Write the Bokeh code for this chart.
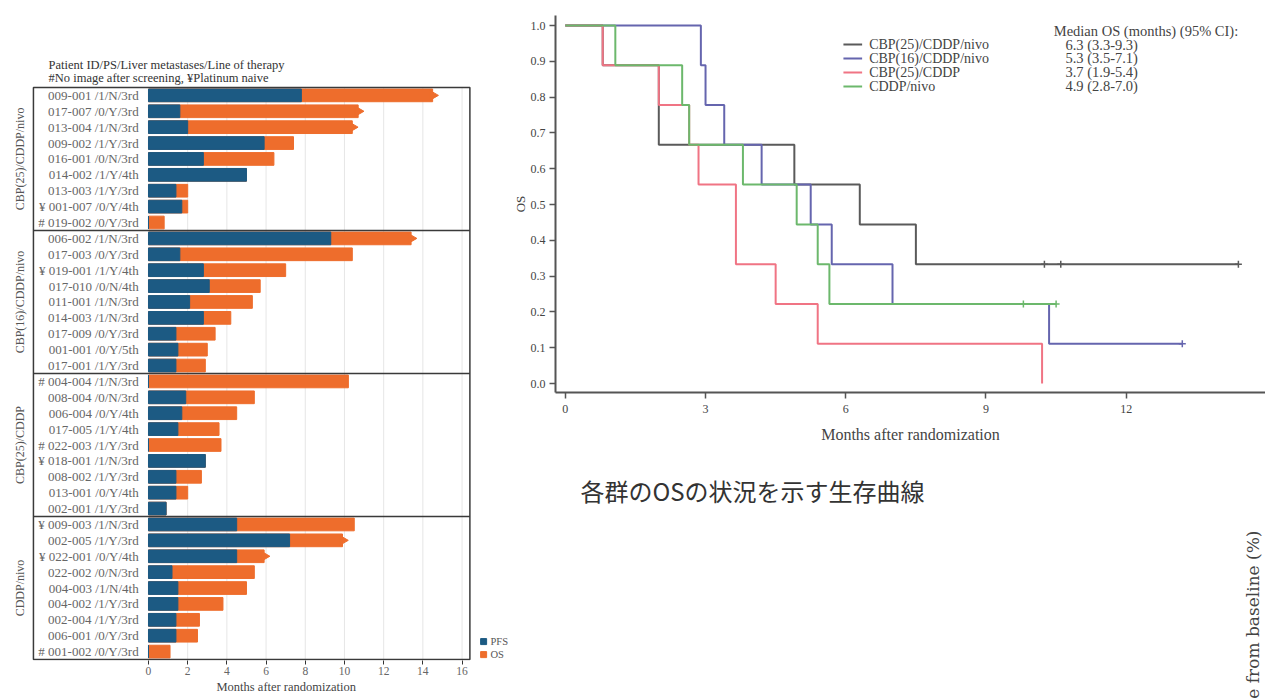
import math
from bokeh.plotting import figure
from bokeh.models import ColumnDataSource, FixedTicker, PrintfTickFormatter, Range1d, Title
from bokeh.layouts import row, column
from bokeh.embed import file_html
from bokeh.resources import INLINE
from bokeh.core.properties import value

SERIF = "Liberation Serif"
CJK = "Noto Sans CJK JP"

# ---------------- data: swimmer plot ----------------
groups = ["CBP(25)/CDDP/nivo", "CBP(16)/CDDP/nivo", "CBP(25)/CDDP", "CDDP/nivo"]
patients = [
    "009-001 /1/N/3rd", "017-007 /0/Y/3rd", "013-004 /1/N/3rd", "009-002 /1/Y/3rd",
    "016-001 /0/N/3rd", "014-002 /1/Y/4th", "013-003 /1/Y/3rd", "¥ 001-007 /0/Y/4th",
    "# 019-002 /0/Y/3rd",
    "006-002 /1/N/3rd", "017-003 /0/Y/3rd", "¥ 019-001 /1/Y/4th", "017-010 /0/N/4th",
    "011-001 /1/N/3rd", "014-003 /1/N/3rd", "017-009 /0/Y/3rd", "001-001 /0/Y/5th",
    "017-001 /1/Y/3rd",
    "# 004-004 /1/N/3rd", "008-004 /0/N/3rd", "006-004 /0/Y/4th", "017-005 /1/Y/4th",
    "# 022-003 /1/Y/3rd", "¥ 018-001 /1/N/3rd", "008-002 /1/Y/3rd", "013-001 /0/Y/4th",
    "002-001 /1/Y/3rd",
    "¥ 009-003 /1/N/3rd", "002-005 /1/Y/3rd", "¥ 022-001 /0/Y/4th", "022-002 /0/N/3rd",
    "004-003 /1/N/4th", "004-002 /1/Y/3rd", "002-004 /1/Y/3rd", "006-001 /0/Y/3rd",
    "# 001-002 /0/Y/3rd",
]
pfs_months = [7.8, 1.6, 2.0, 5.9, 2.8, 5.0, 1.4, 1.7, 0.0,
              9.3, 1.6, 2.8, 3.1, 2.1, 2.8, 1.4, 1.5, 1.4,
              0.0, 1.9, 1.7, 1.5, 0.0, 2.9, 1.4, 1.4, 0.9,
              4.5, 7.2, 4.5, 1.2, 1.5, 1.5, 1.4, 1.4, 0.0]
os_months = [14.5, 10.7, 10.4, 7.4, 6.4, 5.0, 2.0, 2.0, 0.8,
             13.4, 10.4, 7.0, 5.7, 5.3, 4.2, 3.4, 3.0, 2.9,
             10.2, 5.4, 4.5, 3.6, 3.7, 2.9, 2.7, 2.0, 0.9,
             10.5, 9.9, 5.9, 5.4, 5.0, 3.8, 2.6, 2.5, 1.1]
ongoing = [True, True, True, False, False, False, False, False, False,
           True, False, False, False, False, False, False, False, False,
           False, False, False, False, False, False, False, False, False,
           False, True, True, False, False, False, False, False, False]
swim_xticks = [0, 2, 4, 6, 8, 10, 12, 14, 16]

# ---------------- data: Kaplan-Meier OS ----------------
km_names = ["CBP(25)/CDDP/nivo", "CBP(16)/CDDP/nivo", "CBP(25)/CDDP", "CDDP/nivo"]
km_ci = ["6.3 (3.3-9.3)", "5.3 (3.5-7.1)", "3.7 (1.9-5.4)", "4.9 (2.8-7.0)"]
km_colors = ["#5a5a5a", "#6565ae", "#f07484", "#6cb86c"]
gray_t = [0, 0.8, 2.0, 4.9, 6.3, 7.5, 14.4]
gray_s = [1.0, 0.889, 0.667, 0.556, 0.444, 0.333, 0.333]
gray_cens = [10.25, 10.6, 14.4]
blue_t = [0, 2.9, 3.0, 3.4, 4.2, 5.25, 5.7, 7.0, 10.35, 13.2]
blue_s = [1.0, 0.889, 0.778, 0.667, 0.556, 0.444, 0.333, 0.222, 0.111, 0.111]
blue_cens = [13.2]
red_t = [0, 0.8, 2.0, 2.65, 2.85, 3.65, 4.5, 5.4, 10.2]
red_s = [1.0, 0.889, 0.778, 0.667, 0.556, 0.333, 0.222, 0.111, 0.0]
red_cens = []
green_t = [0, 1.07, 2.5, 2.65, 3.8, 4.95, 5.4, 5.65, 10.5]
green_s = [1.0, 0.889, 0.778, 0.667, 0.556, 0.444, 0.333, 0.222, 0.222]
green_cens = [9.8, 10.5]
km_xticks = [0, 3, 6, 9, 12]
km_yticks = [0.0, 0.1, 0.2, 0.3, 0.4, 0.5, 0.6, 0.7, 0.8, 0.9, 1.0]

PFS_COLOR = "#1c5a83"
OS_COLOR = "#ee6d2c"

# ================= left: swimmer plot =================
n = len(patients)
ys = [n - i - 0.5 for i in range(n)]
src = ColumnDataSource(dict(y=ys, pfs=pfs_months, os=os_months, label=patients))

left = figure(width=508, height=698, x_range=Range1d(-7.551, 18.37),
              y_range=Range1d(-0.06, 41.47), output_backend="svg",
              toolbar_location=None, y_axis_location=None,
              min_border=0, min_border_bottom=38)
left.outline_line_color = None
left.grid.grid_line_color = None
box_l, box_r = -5.87, 16.4

gx = [t for t in swim_xticks if t > 0]
left.segment(x0=gx, y0=[0] * len(gx), x1=gx, y1=[n] * len(gx),
             line_color="#e6e6e6", line_width=1)

left.hbar(y="y", left=0, right="os", height=0.8, color=OS_COLOR, source=src)
left.hbar(y="y", left=0, right="pfs", height=0.8, color=PFS_COLOR, source=src)
ax = [o for o, g in zip(os_months, ongoing) if g]
ay = [y for y, g in zip(ys, ongoing) if g]
left.scatter(x=ax, y=ay, marker="triangle", angle=-math.pi / 2, size=10,
             fill_color=OS_COLOR, line_color=OS_COLOR)

left.text(x=-0.5, y="y", text="label", source=src, text_align="right",
          text_baseline="middle", text_font_size="13px", text_color="#666666",
          text_font=value(SERIF))

left.quad(left=box_l, right=box_r, bottom=0, top=n, fill_color=None,
          line_color="#3a3a3a", line_width=1.5)
per = n // len(groups)
seps = [n - per * k for k in range(1, len(groups))]
left.segment(x0=[box_l] * len(seps), y0=seps, x1=[box_r] * len(seps), y1=seps,
             line_color="#3a3a3a", line_width=1.5)
gcent = [n - per * k - per / 2 for k in range(len(groups))]
left.text(x=[-6.55] * len(groups), y=gcent, text=groups, angle=math.pi / 2,
          text_align="center", text_baseline="middle", text_font_size="12px",
          text_color="#555555", text_font=value(SERIF))

left.text(x=[-5.1, -5.1], y=[n + 1.42, n + 0.62],
          text=["Patient ID/PS/Liver metastases/Line of therapy",
                "#No image after screening, ¥Platinum naive"],
          text_align="left", text_baseline="middle", text_font_size="12.5px",
          text_color="#333333", text_font=value(SERIF))

left.scatter(x=[17.1, 17.1], y=[1.13, 0.31], marker="square", size=6,
             color=[PFS_COLOR, OS_COLOR])
left.text(x=[17.45, 17.45], y=[1.13, 0.31], text=["PFS", "OS"],
          text_align="left", text_baseline="middle", text_font_size="10.5px",
          text_color="#555555", text_font=value(SERIF))

xa = left.xaxis[0]
xa.ticker = FixedTicker(ticks=swim_xticks)
xa.axis_line_color = None
xa.major_tick_line_color = "#333333"
xa.major_tick_out = 4
xa.major_tick_in = 0
xa.minor_tick_line_color = None
xa.major_label_text_font = SERIF
xa.major_label_text_font_size = "11.5px"
xa.major_label_text_color = "#666666"
xa.major_label_standoff = 2
left.add_layout(Title(text="Months after randomization", align="left", offset=216,
                      standoff=0, text_font=SERIF, text_font_size="12.5px",
                      text_font_style="normal", text_color="#444444"), "below")

# ================= right: Kaplan-Meier =================
km = figure(width=757, height=450, x_range=Range1d(-0.21, 14.98),
            y_range=Range1d(-0.025, 1.028), output_backend="svg",
            toolbar_location=None, min_border=0, min_border_left=47,
            min_border_top=15, min_border_bottom=58)
km.outline_line_color = None
km.grid.grid_line_color = None

curves = [(gray_t, gray_s, gray_cens), (blue_t, blue_s, blue_cens),
          (red_t, red_s, red_cens), (green_t, green_s, green_cens)]
for (t, s, c), col in zip(curves, km_colors):
    km.step(x=t, y=s, mode="after", line_color=col, line_width=2)
    if c:
        cy = [s[-1]] * len(c)
        km.scatter(x=c, y=cy, marker="cross", size=7, line_color=col, line_width=1.5)

leg_y = [0.947, 0.908, 0.869, 0.830]
km.segment(x0=[5.95] * 4, y0=leg_y, x1=[6.35] * 4, y1=leg_y,
           line_color=km_colors, line_width=2)
km.text(x=[6.5] * 4, y=leg_y, text=km_names, text_align="left",
        text_baseline="middle", text_font_size="14px", text_color="#444444",
        text_font=value(SERIF))
km.text(x=[10.7] * 4, y=leg_y, text=km_ci, text_align="left",
        text_baseline="middle", text_font_size="14.5px", text_color="#444444",
        text_font=value(SERIF))
km.text(x=[10.45], y=[0.985], text=["Median OS (months) (95% CI):"], text_align="left",
        text_baseline="middle", text_font_size="14.5px", text_color="#444444",
        text_font=value(SERIF))

for a in (km.xaxis[0], km.yaxis[0]):
    a.axis_line_color = "#555555"
    a.axis_line_width = 2
    a.major_tick_line_color = "#555555"
    a.major_tick_line_width = 1.5
    a.major_tick_out = 6
    a.major_tick_in = 0
    a.minor_tick_line_color = None
    a.major_label_text_font = SERIF
    a.major_label_text_font_size = "12px"
    a.major_label_text_color = "#444444"
    a.axis_label_text_font = SERIF
    a.axis_label_text_font_style = "normal"
    a.axis_label_text_color = "#444444"
km.xaxis[0].ticker = FixedTicker(ticks=km_xticks)
km.xaxis[0].major_label_standoff = 6
km.xaxis[0].axis_label = "Months after randomization"
km.xaxis[0].axis_label_text_font_size = "16px"
km.xaxis[0].axis_label_standoff = 10
km.yaxis[0].ticker = FixedTicker(ticks=km_yticks)
km.yaxis[0].formatter = PrintfTickFormatter(format="%.1f")
km.yaxis[0].major_tick_out = 6
km.yaxis[0].major_label_standoff = 4
km.yaxis[0].axis_label = "OS"
km.yaxis[0].axis_label_text_font_size = "13px"
km.yaxis[0].axis_label_standoff = 0

# ================= right bottom: caption (frame aligned with KM frame) =================
cap = figure(width=757, height=248, x_range=Range1d(0, 710), y_range=Range1d(0, 248),
             output_backend="svg", toolbar_location=None, min_border=0,
             x_axis_location=None, y_axis_location=None)
cap.outline_line_color = None
cap.grid.grid_line_color = None
cap.text(x=[25], y=[208], text=["各群のOSの状況を示す生存曲線"], text_align="left",
         text_baseline="middle", text_font_size="24px", text_color="#333333",
         text_font=value(CJK))
cap.text(x=[697], y=[168], text=["e from baseline (%)"], angle=math.pi / 2,
         text_align="right", text_baseline="middle", text_font_size="17px",
         text_color="#444444", text_font=value("DejaVu Serif"))

layout = row(left, column(km, cap))
open("out.html", "w").write(file_html(layout, INLINE))
